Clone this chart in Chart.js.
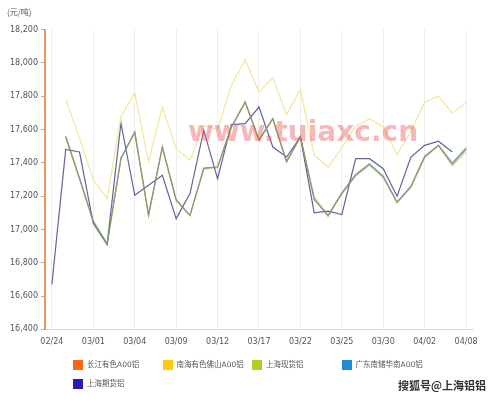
<!DOCTYPE html>
<html>
<head>
<meta charset="utf-8">
<title>铝价走势</title>
<script src="https://cdn.jsdelivr.net/npm/chart.js@4/dist/chart.umd.min.js"></script>
<style>
body { margin: 0; background: #fff; }
#wrap { position: relative; width: 499px; height: 399px; overflow: hidden; }
#legend { position: absolute; left: 73px; top: 360px; width: 400px; font: 7.5px 'DejaVu Sans', 'Noto Sans CJK SC', sans-serif; color: #555; }
#legend .item { display: inline-block; width: 89.5px; height: 19px; white-space: nowrap; }
#legend .box { display: inline-block; width: 10px; height: 10px; vertical-align: top; margin-right: 4px; }
#legend .txt { display: inline-block; line-height: 10px; vertical-align: top; }
#watermark { position: absolute; left: 188px; top: 117px; font: bold 28px 'DejaVu Sans', sans-serif; line-height: 30px; color: rgba(238, 80, 80, 0.42); white-space: nowrap; }
#sohu { position: absolute; left: 398px; top: 378px; font: bold 11px 'Noto Sans CJK SC', sans-serif; line-height: 15px; color: #333; text-shadow: 0 0 2px #fff, 0 0 2px #fff; white-space: nowrap; }
</style>
</head>
<body>
<div id="wrap">
  <canvas id="chart-area" width="499" height="399"></canvas>
  <div id="legend"></div>
  <div id="watermark">www.tuiaxc.cn</div>
  <div id="sohu">搜狐号@上海铝铝</div>
</div>
<script>
'use strict';

//Trading days on the x axis, only every third one gets a label
var categories = ['02/24', '02/25', '02/28', '03/01', '03/02', '03/03', '03/04', '03/05', '03/08', '03/09', '03/10',
	'03/11', '03/12', '03/15', '03/16', '03/17', '03/18', '03/19', '03/22', '03/23', '03/24',
	'03/25', '03/26', '03/29', '03/30', '03/31', '04/01', '04/02', '04/06', '04/07', '04/08'];
var tickDates = ['02/24', '03/01', '03/04', '03/09', '03/12', '03/17', '03/22', '03/25', '03/30', '04/02', '04/08'];

//Prices in 元/吨
var changjiang = [null, 17550, 17300, 17040, 16910, 17420, 17580, 17080, 17490, 17170, 17080,
	17360, 17370, 17610, 17760, 17530, 17660, 17400, 17550, 17200, 17090,
	17210, 17320, 17385, 17310, 17160, 17250, 17430, 17500, 17380, 17465];
var nanhai = [null, 17780, 17550, 17300, 17185, 17675, 17820, 17405, 17735, 17485, 17415,
	17625, 17600, 17865, 18020, 17825, 17910, 17690, 17840, 17445, 17375,
	17490, 17620, 17665, 17615, 17450, 17590, 17765, 17800, 17700, 17760];
var shanghaiSpot = [null, 17555, 17305, 17045, 16910, 17425, 17585, 17085, 17495, 17175, 17085,
	17365, 17375, 17615, 17765, 17535, 17665, 17405, 17555, 17185, 17080,
	17215, 17325, 17390, 17315, 17160, 17255, 17435, 17505, 17390, 17480];
var guangdong = [null, 17560, 17310, 17050, 16915, 17430, 17585, 17090, 17495, 17180, 17085,
	17370, 17375, 17615, 17765, 17540, 17665, 17410, 17560, 17180, 17085,
	17220, 17330, 17395, 17320, 17165, 17260, 17440, 17505, 17400, 17490];
var shanghaiFutures = [16670, 17480, 17465, 17035, 16910, 17640, 17205, 17265, 17325, 17065, 17215,
	17595, 17305, 17630, 17635, 17735, 17495, 17435, 17555, 17100, 17110,
	17090, 17425, 17425, 17365, 17200, 17435, 17505, 17530, 17465, null];

var seriesNames = ['长江有色A00铝', '南海有色佛山A00铝', '上海现货铝', '广东南储华南A00铝', '上海期货铝'];

//legend colours and the (paler) colours the lines come out in
var legendColors = ['rgb(255, 102, 20)', 'rgb(255, 204, 0)', 'rgb(170, 210, 30)', 'rgb(30, 140, 210)', 'rgb(45, 25, 185)'];
var lineColors = ['rgba(215, 140, 80, 0.3)', 'rgb(243, 230, 150)', 'rgba(110, 160, 85, 0.8)', 'rgba(85, 130, 165, 0.75)', 'rgba(85, 80, 150, 0.9)'];

var seriesData = [changjiang, nanhai, shanghaiSpot, guangdong, shanghaiFutures];

var datasets = seriesData.map(function (values, i) {
	return {
		label: seriesNames[i],
		data: values,
		borderColor: lineColors[i],
		backgroundColor: legendColors[i],
		borderWidth: 1.2,
		pointRadius: 0,
		tension: 0,
		fill: false
	};
});

var axisOrange = 'rgb(240, 150, 90)';
var fontFamily = "'DejaVu Sans', sans-serif";

var config = {
	type: 'line',
	data: {
		labels: categories,
		datasets: datasets
	},
	options: {
		responsive: false,
		animation: false,
		layout: {
			padding: { left: 7, right: 26, top: 0, bottom: 44 }
		},
		plugins: {
			legend: { display: false },
			tooltip: { enabled: false },
			title: {
				display: true,
				text: '(元/吨)',
				align: 'start',
				color: '#555',
				font: { family: "'Noto Sans CJK SC', sans-serif", size: 8, weight: 'normal' },
				padding: { top: 7, bottom: 13 }
			}
		},
		scales: {
			x: {
				offset: true,
				grid: {
					offset: false,
					color: 'rgb(236, 236, 236)',
					drawTicks: false
				},
				border: { color: 'rgb(215, 215, 215)' },
				ticks: {
					autoSkip: false,
					maxRotation: 0,
					padding: 8,
					color: '#555',
					font: { family: fontFamily, size: 8 },
					callback: function (value, index) {
						var lbl = categories[index];
						return tickDates.indexOf(lbl) >= 0 ? lbl : null;
					}
				}
			},
			y: {
				min: 16400,
				max: 18200,
				grid: {
					drawOnChartArea: false,
					color: axisOrange,
					tickLength: 4
				},
				border: { color: axisOrange, width: 2 },
				ticks: {
					stepSize: 200,
					padding: 3,
					color: '#555',
					font: { family: fontFamily, size: 8 }
				}
			}
		}
	}
};

//Build the chart then the legend underneath it
var ctx = document.getElementById('chart-area').getContext('2d');
window.myLine = new Chart(ctx, config);

var legendHtml = '';
window.myLine.data.datasets.forEach(function (ds) {
	legendHtml += '<span class="item"><span class="box" style="background:' + ds.backgroundColor + '"></span>' +
		'<span class="txt">' + ds.label + '</span></span>';
});
document.getElementById('legend').innerHTML = legendHtml;
</script>
</body>
</html>
